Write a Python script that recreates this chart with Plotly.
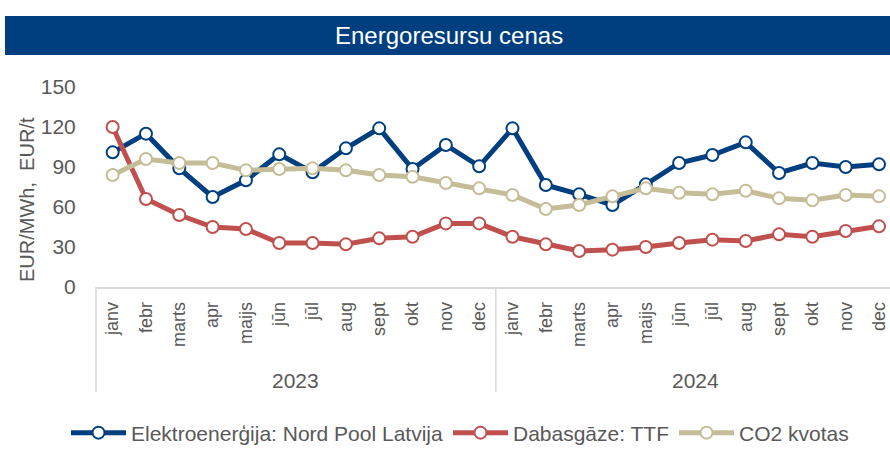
import plotly.graph_objects as go

months = ["janv", "febr", "marts", "apr", "maijs", "jūn", "jūl", "aug", "sept", "okt", "nov", "dec"]
years = ["2023", "2024"]
month_labels = months + months

electricity = [101, 115, 89, 67.5, 80, 99.5, 86, 104, 119, 88.5, 106.5, 90.5,
               119, 76.5, 69.5, 61.5, 77, 93, 99, 108.5, 85.5, 93, 90, 92]
gas = [120, 66, 54, 45, 43.5, 33, 33, 32, 36.5, 37.7, 47.7, 47.7,
       37.7, 32, 27, 28, 30, 33, 35.5, 34.5, 39.5, 37.7, 42, 45.5]
co2 = [84, 96, 93, 93, 87.5, 88.5, 89, 87.5, 84, 82.7, 78, 74,
       69, 58.5, 61.5, 68, 74, 70.7, 69.5, 72.2, 66.5, 65, 69, 68]

series_names = ["Elektroenerģija: Nord Pool Latvija", "Dabasgāze: TTF", "CO2 kvotas"]
colors = ["#003F7F", "#C0504D", "#C4BD97"]

y_ticks = [0, 30, 60, 90, 120, 150]

FONT = "Liberation Sans, Arial, sans-serif"
GRAY = "#595959"

x = list(range(len(month_labels)))

fig = go.Figure()
for name, vals, col in zip(series_names, [electricity, gas, co2], colors):
    fig.add_trace(go.Scatter(
        x=x, y=vals, name=name, mode="lines+markers",
        line=dict(color=col, width=5),
        marker=dict(symbol="circle", size=12, color="white", line=dict(color=col, width=2)),
    ))

W, H = 890, 454
left, right, top, bottom = 96, 0, 87, 167

fig.update_layout(
    width=W, height=H,
    margin=dict(l=left, r=right, t=top, b=bottom),
    paper_bgcolor="white", plot_bgcolor="white",
    font=dict(family=FONT, color=GRAY),
    showlegend=True,
    legend=dict(orientation="h", x=(460 - left) / (W - left), xanchor="center",
                y=(287 - 433) / 200, yanchor="middle",
                font=dict(size=21, color=GRAY), itemwidth=55, tracegroupgap=0,
                bgcolor="rgba(0,0,0,0)"),
)

fig.update_xaxes(
    range=[-0.5, 23.33], tickmode="array", tickvals=x, ticktext=month_labels,
    tickangle=-90, tickfont=dict(size=18, color=GRAY),
    showgrid=False, zeroline=False, showline=True, linecolor="#D9D9D9", linewidth=1.5,
    ticks="outside", ticklen=6, tickcolor="rgba(0,0,0,0)", fixedrange=True,
)
fig.update_yaxes(
    range=[0, 150], tickmode="array", tickvals=y_ticks,
    tickfont=dict(size=21, color=GRAY), showgrid=False, zeroline=False,
    showline=False, ticks="outside", ticklen=15, tickcolor="rgba(0,0,0,0)",
    fixedrange=True,
)

# title bar
fig.add_shape(type="rect", xref="paper", yref="paper",
              x0=(5 - left) / (W - left), x1=1.0,
              y0=(287 - 55) / 200, y1=(287 - 16) / 200,
              fillcolor="#003F7F", line=dict(width=0), layer="above")
fig.add_annotation(text="Energoresursu cenas", xref="paper", yref="paper",
                   x=(449 - left) / (W - left), y=(287 - 35.5) / 200,
                   showarrow=False, font=dict(size=24, color="white", family=FONT),
                   xanchor="center", yanchor="middle")

# y-axis title
fig.add_annotation(text="EUR/MWh,  EUR/t", xref="paper", yref="paper",
                   x=(27 - left) / (W - left), y=(287 - 200) / 200, textangle=-90,
                   showarrow=False, font=dict(size=20, color=GRAY, family=FONT),
                   xanchor="center", yanchor="middle")

# year group labels and dividers
for i, yr in enumerate(years):
    fig.add_annotation(text=yr, xref="x", yref="paper", x=i * 12 + 5.5,
                       y=(287 - 380) / 200, showarrow=False,
                       font=dict(size=21, color=GRAY, family=FONT),
                       xanchor="center", yanchor="middle")

fig.add_shape(type="line", xref="paper", yref="paper", x0=0, x1=0,
              y0=0, y1=(287 - 392) / 200, line=dict(color="#D9D9D9", width=1.5))
fig.add_shape(type="line", xref="x", yref="paper", x0=11.5, x1=11.5,
              y0=0, y1=(287 - 392) / 200, line=dict(color="#D9D9D9", width=1.5))

fig.write_html("out.html", config={"displayModeBar": False},
               post_script="document.body.style.margin='0px';")
